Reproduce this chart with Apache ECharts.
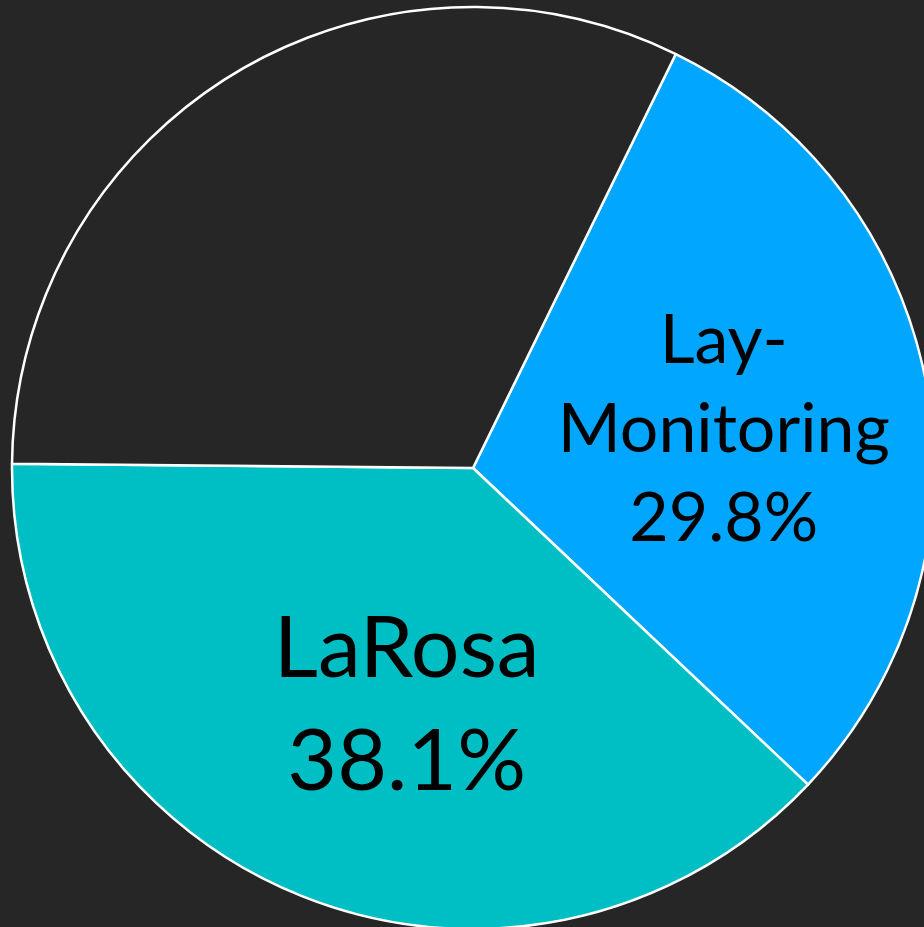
<!DOCTYPE html>
<html>
<head>
<meta charset="utf-8">
<script src="https://cdn.jsdelivr.net/npm/echarts@6/dist/echarts.min.js"></script>
<style>
  html, body { margin: 0; padding: 0; background: #262626; }
  #pie-chart { width: 924px; height: 927px; }
</style>
</head>
<body>
<div id="pie-chart"></div>
<script>
// slice data, in drawing order (clockwise from the blue slice)
var names = ["Lay-Monitoring", "LaRosa", "Other"];
var values = [29.8, 38.1, 32.1];
var colors = ["#00A6FF", "#00BFC4", "#262626"];

var chartDom = document.getElementById("pie-chart");
var myChart = echarts.init(chartDom);

var labelStyles = [
  { fontSize: 68, lineHeight: 89, offset: [21, 4] },
  { fontSize: 86, lineHeight: 113, offset: [21, 21] },
  { show: false }
];

var option = {
  backgroundColor: "#262626",
  animation: false,
  series: [
    {
      type: "pie",
      center: [473, 468],
      radius: [0, 461],
      startAngle: 63.9,
      clockwise: true,
      percentPrecision: 1,
      itemStyle: {
        borderColor: "#ffffff",
        borderWidth: 2.5,
      },
      label: {
        position: "inside",
        color: "#000000",
        fontFamily: "Lato",
        formatter: function (p) {
          return p.name.replace("-", "-\n") + "\n" + p.percent + "%";
        },
      },
      labelLine: { show: false },
      data: names.map(function (n, i) {
        return {
          name: n,
          value: values[i],
          itemStyle: { color: colors[i] },
          label: labelStyles[i],
        };
      }),
    },
  ],
};

option && myChart.setOption(option);
</script>
</body>
</html>
